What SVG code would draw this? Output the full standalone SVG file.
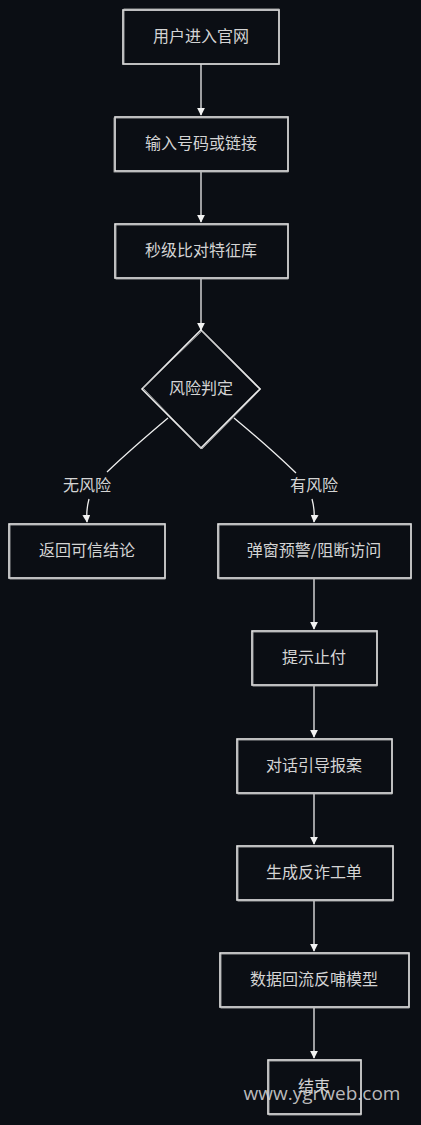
<svg xmlns="http://www.w3.org/2000/svg" width="421" height="1125" viewBox="0 0 421 1125">
<defs>
<marker id="arr" viewBox="0 0 10 10" refX="9" refY="5" markerWidth="8" markerHeight="8" orient="auto" markerUnits="userSpaceOnUse">
<path d="M0,0 L10,5 L0,10 Z" fill="#f2f2f2"/>
</marker>
<style>
.box{fill:#0b0e14;stroke:#ececec;stroke-width:1.6}
.box2{fill:none;stroke:#bdbdbd;stroke-width:0.8}
.lbl{font-family:"Noto Sans CJK SC","Noto Sans",sans-serif;font-size:16px;fill:#d4d4d4;text-anchor:middle}
.edge{fill:none;stroke:#eeeeee;stroke-width:1.3}
.el{font-family:"Noto Sans CJK SC","Noto Sans",sans-serif;font-size:16px;fill:#d4d4d4;text-anchor:middle}
</style>
</defs>
<rect width="421" height="1125" fill="#0b0e14"/>
<g id="connectors">
<path class="edge" d="M201,64 L201,115" marker-end="url(#arr)"/>
<path class="edge" d="M201,172 L201,222" marker-end="url(#arr)"/>
<path class="edge" d="M201,279 L201,330" marker-end="url(#arr)"/>
<path class="edge" d="M168,418 Q130,450 107,472"/>
<path class="edge" d="M89,499 Q86,510 87,522" marker-end="url(#arr)"/>
<path class="edge" d="M234,418 Q270,448 296,473"/>
<path class="edge" d="M312,499 Q315,510 314,522" marker-end="url(#arr)"/>
<path class="edge" d="M314,579 L314,629" marker-end="url(#arr)"/>
<path class="edge" d="M314,686 L314,737" marker-end="url(#arr)"/>
<path class="edge" d="M314,794 L314,844" marker-end="url(#arr)"/>
<path class="edge" d="M314,901 L314,951" marker-end="url(#arr)"/>
<path class="edge" d="M314,1008 L314,1058" marker-end="url(#arr)"/>
<text class="el" x="87" y="491">无风险</text>
<text class="el" x="314" y="491">有风险</text>
</g>
<g id="n1"><rect class="box" x="123" y="10" width="156" height="54"/><rect class="box2" x="124" y="9" width="155" height="55"/><text class="lbl" x="201" y="42">用户进入官网</text></g>
<g id="n2"><rect class="box" x="115" y="117" width="173" height="54"/><rect class="box2" x="114" y="118" width="174" height="54"/><text class="lbl" x="201" y="149">输入号码或链接</text></g>
<g id="n3"><rect class="box" x="115" y="224" width="173" height="54"/><rect class="box2" x="116" y="225" width="172" height="54"/><text class="lbl" x="201" y="256">秒级比对特征库</text></g>
<g id="n4"><path class="box" d="M201,330 L260,389 L201,448 L142,389 Z"/><path class="box2" d="M202,331 L261,389 L202,449 L143,388 Z"/><text class="lbl" x="201" y="394">风险判定</text></g>
<g id="n5"><rect class="box" x="9" y="524" width="156" height="54"/><rect class="box2" x="10" y="525" width="155" height="54"/><text class="lbl" x="87" y="556">返回可信结论</text></g>
<g id="n6"><rect class="box" x="218" y="524" width="193" height="54"/><rect class="box2" x="219" y="525" width="192" height="54"/><text class="lbl" x="314" y="556">弹窗预警/阻断访问</text></g>
<g id="n7"><rect class="box" x="252" y="631" width="125" height="54"/><rect class="box2" x="253" y="632" width="124" height="54"/><text class="lbl" x="314" y="663">提示止付</text></g>
<g id="n8"><rect class="box" x="237" y="739" width="155" height="54"/><rect class="box2" x="238" y="740" width="154" height="54"/><text class="lbl" x="314" y="771">对话引导报案</text></g>
<g id="n9"><rect class="box" x="237" y="846" width="156" height="54"/><rect class="box2" x="238" y="847" width="155" height="54"/><text class="lbl" x="314" y="878">生成反诈工单</text></g>
<g id="n10"><rect class="box" x="220" y="953" width="189" height="54"/><rect class="box2" x="221" y="954" width="188" height="54"/><text class="lbl" x="314" y="985">数据回流反哺模型</text></g>
<g id="n11"><rect class="box" x="268" y="1060" width="93" height="54"/><rect class="box2" x="269" y="1061" width="92" height="54"/><text class="lbl" x="314" y="1092">结束</text></g>
<text x="322" y="1100" font-family="'Open Sans','Noto Sans',sans-serif" font-size="19" fill="#d0d0d0" fill-opacity="0.9" text-anchor="middle">www.ygrweb.com</text>
</svg>
